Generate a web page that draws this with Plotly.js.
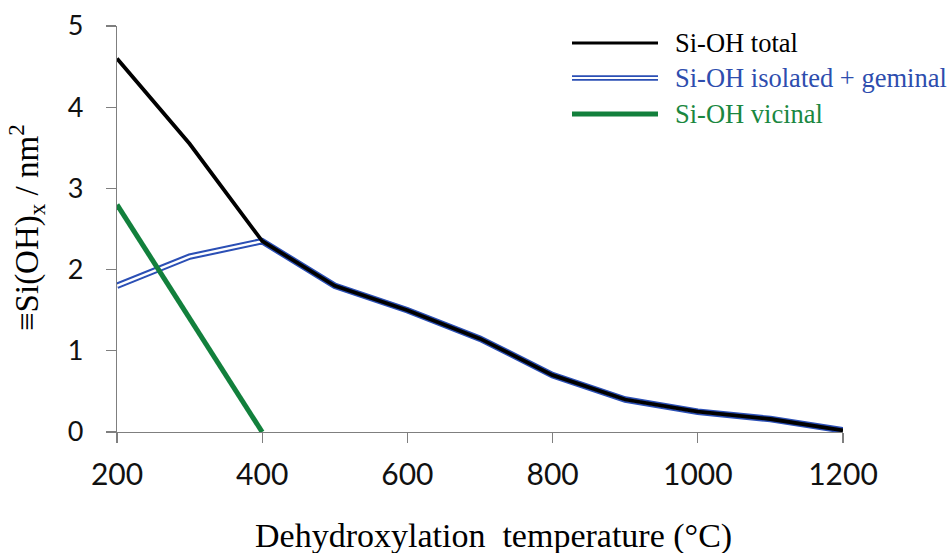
<!DOCTYPE html>
<html>
<head>
<meta charset="utf-8">
<script src="https://cdn.plot.ly/plotly-3.0.1.min.js"></script>
<style>html,body{margin:0;padding:0;background:#fff;}#chart{width:948px;height:553px;}</style>
</head>
<body>
<div id="chart"></div>
<script>
// ---- data ----
const temps = [200, 300, 400, 500, 600, 700, 800, 900, 1000, 1100, 1200];
const siohTotal = [4.6, 3.55, 2.35, 1.8, 1.5, 1.15, 0.7, 0.4, 0.25, 0.16, 0.02];
const siohIsoGem = [1.8, 2.16, 2.35, 1.8, 1.5, 1.15, 0.7, 0.4, 0.25, 0.16, 0.02];
const vicTemps = [200, 300, 400];
const siohVicinal = [2.8, 1.4, 0.0];
const seriesNames = ['Si-OH total', 'Si-OH isolated + geminal', 'Si-OH vicinal'];
const xTicks = [200, 400, 600, 800, 1000, 1200];
const yTicks = [0, 1, 2, 3, 4, 5];

// ---- style ----
const BLUE = '#2B4FB5', GREEN = '#12803C', BLACK = '#000000';
const L = 117, R = 105, T = 26, B = 121, W = 948, H = 553;
const PW = W - L - R, PH = H - T - B;
const px = x => (x - L) / PW;          // pixel -> paper x
const py = y => (H - B - y) / PH;      // pixel -> paper y
const serif = '"Liberation Serif", "Times New Roman", serif';
const sans = '"Lato", "Open Sans", sans-serif';

const traces = [
  {x: temps, y: siohIsoGem, mode: 'lines', line: {color: BLUE, width: 6.5}, cliponaxis: false, showlegend: false, hoverinfo: 'skip'},
  {x: temps, y: siohIsoGem, mode: 'lines', line: {color: '#ffffff', width: 2.4}, cliponaxis: false, showlegend: false, name: seriesNames[1]},
  {x: temps, y: siohTotal, mode: 'lines', line: {color: BLACK, width: 3.8}, cliponaxis: false, showlegend: false, name: seriesNames[0]},
  {x: vicTemps, y: siohVicinal, mode: 'lines', line: {color: GREEN, width: 5}, cliponaxis: false, showlegend: false, name: seriesNames[2]}
];

const legY = [43, 78, 114];
const legColors = [BLACK, '#2E4DAE', '#1A8740'];
const shapes = [
  {type: 'line', xref: 'paper', yref: 'paper', x0: px(572), x1: px(658), y0: py(legY[0]), y1: py(legY[0]), line: {color: BLACK, width: 3}},
  {type: 'line', xref: 'paper', yref: 'paper', x0: px(572), x1: px(658), y0: py(legY[1]), y1: py(legY[1]), line: {color: BLUE, width: 5.5}},
  {type: 'line', xref: 'paper', yref: 'paper', x0: px(572), x1: px(658), y0: py(legY[1]), y1: py(legY[1]), line: {color: '#ffffff', width: 1.8}},
  {type: 'line', xref: 'paper', yref: 'paper', x0: px(572), x1: px(658), y0: py(legY[2]), y1: py(legY[2]), line: {color: GREEN, width: 5}}
];

const annotations = seriesNames.map((n, i) => ({
  xref: 'paper', yref: 'paper', x: px(673), y: py(legY[i]), xanchor: 'left', yanchor: 'middle',
  text: n, showarrow: false, font: {family: serif, size: 26.5, color: legColors[i]}
}));
annotations.push({
  xref: 'paper', yref: 'paper', x: px(493), y: py(536), xanchor: 'center', yanchor: 'middle',
  text: 'Dehydroxylation  temperature (°C)', showarrow: false, font: {family: serif, size: 34, color: '#000'}
});
annotations.push({
  xref: 'paper', yref: 'paper', x: px(27), y: py(228), xanchor: 'center', yanchor: 'middle', textangle: -90,
  text: '≡Si(OH)<sub>x</sub> / nm<sup>2</sup>', showarrow: false, font: {family: serif, size: 33, color: '#000'}
});

const layout = {
  width: W, height: H,
  margin: {l: L, r: R, t: T, b: B, pad: 0},
  paper_bgcolor: '#ffffff', plot_bgcolor: '#ffffff',
  showlegend: false,
  xaxis: {
    range: [200, 1200], tickvals: xTicks, ticktext: xTicks.map(String),
    showgrid: false, zeroline: false, showline: true, linecolor: '#7f7f7f', linewidth: 1.3,
    ticks: 'outside', ticklen: 10, tickcolor: '#7f7f7f', tickwidth: 1.3,
    ticklabelstandoff: 6,
    tickfont: {family: sans, size: 30, color: '#111'}
  },
  yaxis: {
    range: [0, 5], tickvals: yTicks, ticktext: yTicks.map(String),
    showgrid: false, zeroline: false, showline: true, linecolor: '#7f7f7f', linewidth: 1.3,
    ticks: 'outside', ticklen: 10, tickcolor: '#7f7f7f', tickwidth: 1.3,
    ticklabelstandoff: 17,
    tickfont: {family: sans, size: 27, color: '#111'}
  },
  shapes: shapes,
  annotations: annotations
};

Plotly.newPlot('chart', traces, layout, {staticPlot: true, displayModeBar: false});
</script>
</body>
</html>
